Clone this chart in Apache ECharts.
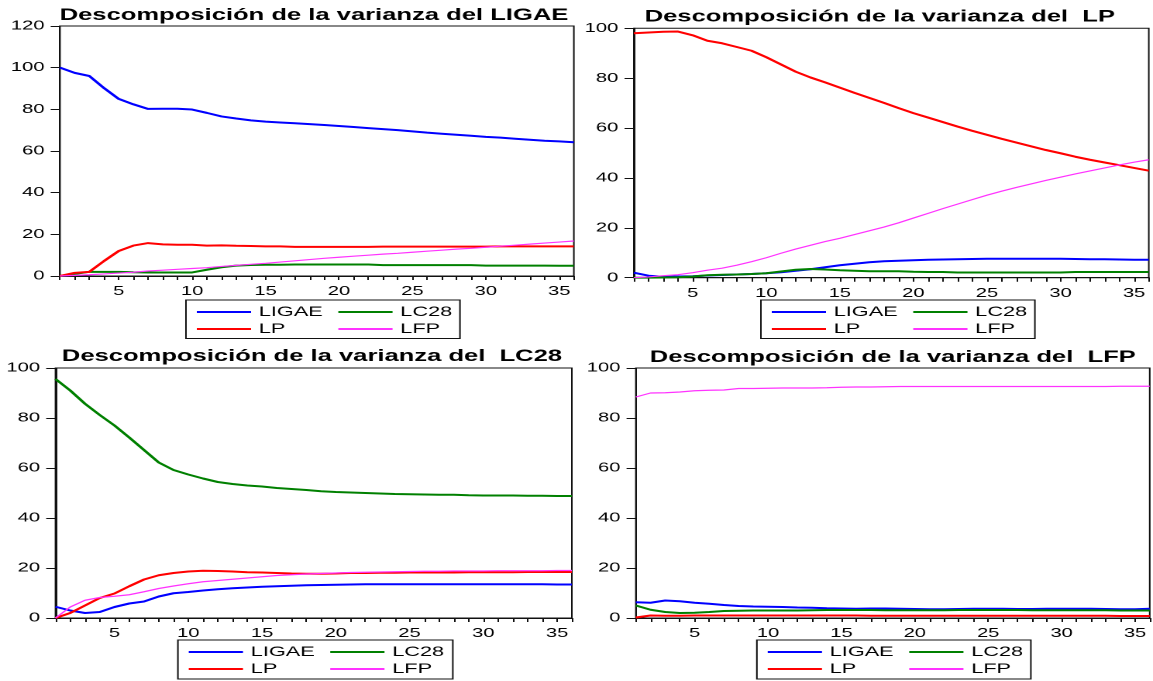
<!DOCTYPE html>
<html>
<head>
<meta charset="utf-8">
<script src="https://cdn.jsdelivr.net/npm/echarts@6/dist/echarts.min.js"></script>
<style>
  html, body { margin: 0; padding: 0; background: #fff; overflow: hidden; }
  #stage { width: 1153px; height: 681px; overflow: hidden; }
  /* the charts are laid out on a narrower canvas and stretched sideways */
  #chart { width: 744px; height: 681px; transform: scaleX(1.5497); transform-origin: 0 0; }
</style>
</head>
<body>
<div id="stage"><div id="chart"></div></div>
<script>
// forecast horizon (periods)
const periods = [1, 2, 3, 4, 5, 6, 7, 8, 9, 10, 11, 12, 13, 14, 15, 16, 17, 18,
  19, 20, 21, 22, 23, 24, 25, 26, 27, 28, 29, 30, 31, 32, 33, 34, 35, 36];

const shockNames = ['LIGAE', 'LC28', 'LP', 'LFP'];

// variance decomposition of LIGAE (percent)
const ligae_LIGAE = [100, 97.5, 96, 90.2, 85, 82.4, 80.2, 80.3, 80.3, 79.9, 78.3, 76.6, 75.6, 74.7, 74.1, 73.7, 73.3, 72.9,
  72.5, 72.0, 71.5, 71.0, 70.5, 70.0, 69.4, 68.8, 68.3, 67.8, 67.3, 66.8, 66.4, 65.9, 65.4, 64.9, 64.6, 64.2];
const ligae_LC28 = [0, 1.0, 2.0, 2.0, 2.0, 1.8, 1.7, 1.7, 1.7, 1.7, 3.0, 4.2, 5.0, 5.3, 5.4, 5.4, 5.5, 5.5,
  5.5, 5.5, 5.5, 5.5, 5.2, 5.2, 5.2, 5.2, 5.2, 5.2, 5.2, 5.0, 5.0, 5.0, 5.0, 5.0, 4.9, 4.9];
const ligae_LP = [0, 1.5, 2.0, 7.2, 12.0, 14.6, 15.8, 15.2, 15.0, 15.0, 14.6, 14.7, 14.5, 14.4, 14.2, 14.2, 14.0, 14.0,
  14.0, 14.0, 14.0, 14.0, 14.1, 14.1, 14.1, 14.1, 14.1, 14.1, 14.1, 14.1, 14.2, 14.2, 14.2, 14.2, 14.2, 14.2];
const ligae_LFP = [0, 0.3, 0.6, 1.0, 1.4, 1.8, 2.4, 2.8, 3.2, 3.6, 4.0, 4.6, 5.1, 5.6, 6.1, 6.7, 7.3, 7.9,
  8.5, 9.0, 9.5, 10.0, 10.5, 10.9, 11.4, 11.9, 12.4, 12.9, 13.3, 13.8, 14.3, 14.8, 15.3, 15.8, 16.3, 16.8];

// variance decomposition of LP
const lp_LIGAE = [2.0, 0.8, 0.4, 0.5, 0.6, 0.9, 1.1, 1.3, 1.5, 1.8, 2.2, 2.8, 3.4, 4.2, 5.0, 5.6, 6.2, 6.6,
  6.8, 7.0, 7.2, 7.3, 7.4, 7.5, 7.6, 7.6, 7.6, 7.6, 7.6, 7.6, 7.5, 7.4, 7.4, 7.3, 7.2, 7.2];
const lp_LC28 = [0, 0, 0.1, 0.2, 0.5, 1.0, 1.2, 1.3, 1.5, 1.8, 2.5, 3.2, 3.5, 3.3, 3.0, 2.8, 2.6, 2.6,
  2.6, 2.4, 2.3, 2.3, 2.1, 2.1, 2.1, 2.1, 2.1, 2.1, 2.1, 2.1, 2.3, 2.3, 2.3, 2.3, 2.3, 2.3];
const lp_LP = [98.0, 98.3, 98.6, 98.7, 97.2, 95.0, 94.0, 92.5, 91.0, 88.4, 85.5, 82.6, 80.3, 78.3, 76.2, 74.1, 72.1, 70.1,
  68.0, 66.0, 64.2, 62.4, 60.6, 58.9, 57.3, 55.7, 54.2, 52.7, 51.2, 49.9, 48.5, 47.3, 46.2, 45.1, 44.0, 42.9];
const lp_LFP = [0, 0.3, 0.8, 1.2, 2.0, 3.0, 3.8, 5.0, 6.4, 8.0, 9.8, 11.5, 13.0, 14.5, 15.8, 17.3, 18.8, 20.3,
  22.0, 23.9, 25.8, 27.7, 29.5, 31.3, 33.1, 34.7, 36.2, 37.6, 39.0, 40.3, 41.6, 42.8, 44.0, 45.2, 46.3, 47.3];

// variance decomposition of LC28
const lc28_LIGAE = [4.5, 3.0, 2.0, 2.4, 4.4, 5.8, 6.6, 8.6, 9.9, 10.4, 11.0, 11.5, 11.9, 12.2, 12.5, 12.7, 12.9, 13.1,
  13.2, 13.3, 13.4, 13.5, 13.5, 13.5, 13.5, 13.5, 13.5, 13.5, 13.5, 13.5, 13.5, 13.5, 13.5, 13.5, 13.4, 13.4];
const lc28_LC28 = [95.6, 91.0, 85.7, 81.2, 77.0, 72.2, 67.2, 62.2, 59.2, 57.4, 55.8, 54.4, 53.6, 53.0, 52.6, 52.0, 51.6, 51.2,
  50.7, 50.4, 50.2, 50.0, 49.8, 49.6, 49.5, 49.4, 49.3, 49.3, 49.1, 49.0, 49.0, 49.0, 48.9, 48.9, 48.8, 48.8];
const lc28_LP = [0, 2.0, 5.0, 8.0, 9.8, 12.7, 15.4, 17.1, 18.0, 18.6, 18.9, 18.8, 18.6, 18.3, 18.2, 18.0, 17.8, 17.7,
  17.7, 17.8, 18.0, 18.0, 18.1, 18.1, 18.2, 18.2, 18.2, 18.2, 18.3, 18.3, 18.3, 18.3, 18.4, 18.4, 18.4, 18.4];
const lc28_LFP = [0, 4.4, 7.1, 8.2, 8.7, 9.3, 10.5, 11.8, 12.8, 13.7, 14.5, 15.0, 15.5, 16.0, 16.5, 17.0, 17.3, 17.6,
  17.8, 18.0, 18.2, 18.3, 18.4, 18.5, 18.6, 18.7, 18.7, 18.8, 18.8, 18.8, 18.9, 18.9, 18.9, 18.9, 19.0, 19.0];

// variance decomposition of LFP
const lfp_LIGAE = [6.3, 6.1, 7.0, 6.7, 6.1, 5.7, 5.2, 4.8, 4.6, 4.5, 4.4, 4.2, 4.1, 3.9, 3.8, 3.7, 3.8, 3.8,
  3.7, 3.6, 3.5, 3.5, 3.6, 3.7, 3.7, 3.7, 3.6, 3.6, 3.7, 3.7, 3.7, 3.7, 3.6, 3.5, 3.5, 3.7];
const lfp_LC28 = [5.0, 3.3, 2.4, 2.0, 2.1, 2.4, 2.8, 2.9, 3.0, 3.0, 3.0, 3.0, 3.1, 3.2, 3.2, 3.2, 3.2, 3.1,
  3.1, 3.1, 3.1, 3.1, 3.2, 3.2, 3.2, 3.2, 3.2, 3.1, 3.1, 3.1, 3.1, 3.1, 3.1, 3.0, 3.0, 3.0];
const lfp_LP = [0.2, 1.0, 0.9, 0.9, 1.0, 1.0, 1.0, 1.0, 1.0, 1.0, 1.0, 1.0, 1.0, 1.0, 1.0, 1.0, 0.9, 0.9,
  0.9, 0.9, 0.9, 0.9, 0.9, 0.9, 0.9, 0.9, 0.9, 0.9, 0.9, 0.9, 0.9, 0.9, 0.9, 0.8, 0.8, 0.8];
const lfp_LFP = [88.4, 90.0, 90.1, 90.4, 90.9, 91.1, 91.2, 91.8, 91.8, 91.9, 92.0, 92.0, 92.0, 92.1, 92.3, 92.4, 92.4, 92.5,
  92.6, 92.6, 92.6, 92.6, 92.6, 92.6, 92.6, 92.6, 92.6, 92.6, 92.6, 92.6, 92.6, 92.6, 92.6, 92.7, 92.7, 92.7];

// y-axis tick values
const yTicks120 = [0, 20, 40, 60, 80, 100, 120];
const yTicks100 = [0, 20, 40, 60, 80, 100];

// legend layout: two columns, two rows
const legendColumns = [['LIGAE', 'LP'], ['LC28', 'LFP']];

const FONT = '"Liberation Sans", Arial, sans-serif';
const lineColors = { LIGAE: '#0000ff', LC28: '#008000', LP: '#ff0000', LFP: '#ff33ff' };
const lineWidths = { LIGAE: 2, LC28: 2, LP: 2, LFP: 1.2 };

const panels = [
  { title: 'Descomposición de la varianza del LIGAE', tx: 202.6, ty: 6.5,
    grid: { left: 38.7, top: 26, width: 331.6, height: 250 }, ticks: yTicks120,
    box: { x: 120, y: 300, w: 176.8, h: 38.5 },
    series: { LIGAE: ligae_LIGAE, LC28: ligae_LC28, LP: ligae_LP, LFP: ligae_LFP } },
  { title: 'Descomposición de la varianza del  LP', tx: 567.7, ty: 8,
    grid: { left: 409.0, top: 28.3, width: 332.3, height: 249.4 }, ticks: yTicks100,
    box: { x: 491.0, y: 300, w: 176.8, h: 38.5 },
    series: { LIGAE: lp_LIGAE, LC28: lp_LC28, LP: lp_LP, LFP: lp_LFP } },
  { title: 'Descomposición de la varianza del  LC28', tx: 201.3, ty: 347.5,
    grid: { left: 35.8, top: 368, width: 333.2, height: 250 }, ticks: yTicks100,
    box: { x: 114.8, y: 640, w: 177.4, h: 39 },
    series: { LIGAE: lc28_LIGAE, LC28: lc28_LC28, LP: lc28_LP, LFP: lc28_LFP } },
  { title: 'Descomposición de la varianza del  LFP', tx: 576.1, ty: 348.5,
    grid: { left: 410.3, top: 368, width: 331.6, height: 250 }, ticks: yTicks100,
    box: { x: 488.4, y: 640, w: 176.8, h: 39 },
    series: { LIGAE: lfp_LIGAE, LC28: lfp_LC28, LP: lfp_LP, LFP: lfp_LFP } }
];

const option = {
  animation: false,
  backgroundColor: '#fff',
  title: [], grid: [], xAxis: [], yAxis: [], legend: [], series: [], graphic: []
};

panels.forEach((p, i) => {
  option.title.push({
    text: p.title, left: p.tx, top: p.ty, textAlign: 'center', padding: 0,
    textStyle: { fontFamily: FONT, fontSize: 16.5, fontWeight: 'bold', color: '#000', lineHeight: 18 }
  });
  option.grid.push(Object.assign({ show: true, borderColor: '#111', borderWidth: 1, containLabel: false }, p.grid));
  option.xAxis.push({
    type: 'category', gridIndex: i, data: periods, boundaryGap: false,
    axisLine: { lineStyle: { color: '#111', width: 1 } },
    axisTick: { show: true, interval: 0, length: 4, lineStyle: { color: '#111' } },
    axisLabel: { interval: (idx, v) => Number(v) % 5 === 0, margin: 9, color: '#000',
      fontFamily: FONT, fontSize: 13 },
    splitLine: { show: false }
  });
  const tks = p.ticks;
  option.yAxis.push({
    type: 'value', gridIndex: i, min: tks[0], max: tks[tks.length - 1], interval: tks[1] - tks[0],
    axisLine: { show: true, lineStyle: { color: '#111', width: 1 } },
    axisTick: { show: true, length: 6, lineStyle: { color: '#111' } },
    axisLabel: { margin: 10, color: '#000', fontFamily: FONT, fontSize: 13 },
    splitLine: { show: false }
  });
  // framed legend box
  option.graphic.push({
    type: 'rect', silent: true, z: 1,
    shape: { x: p.box.x, y: p.box.y, width: p.box.w, height: p.box.h },
    style: { fill: '#fff', stroke: '#111', lineWidth: 1 }
  });
  const colX = [p.box.x + 6, p.box.x + 97.3];
  legendColumns.forEach((names, c) => {
    option.legend.push({
      left: colX[c], top: p.box.y + 5, orient: 'vertical', padding: 0,
      data: names, itemWidth: 35, itemHeight: 2, itemGap: 3, z: 5,
      selectedMode: false,
      textStyle: { fontFamily: FONT, fontSize: 14, color: '#000', lineHeight: 14 }
    });
  });
  shockNames.forEach(name => {
    option.series.push({
      type: 'line', name: name, xAxisIndex: i, yAxisIndex: i,
      data: p.series[name], symbol: 'none', showSymbol: false,
      lineStyle: { color: lineColors[name], width: lineWidths[name] },
      itemStyle: { color: lineColors[name] },
      emphasis: { disabled: true }
    });
  });
});

const chart = echarts.init(document.getElementById('chart'), null, { renderer: 'canvas', devicePixelRatio: 2 });
chart.setOption(option);
</script>
</body>
</html>
